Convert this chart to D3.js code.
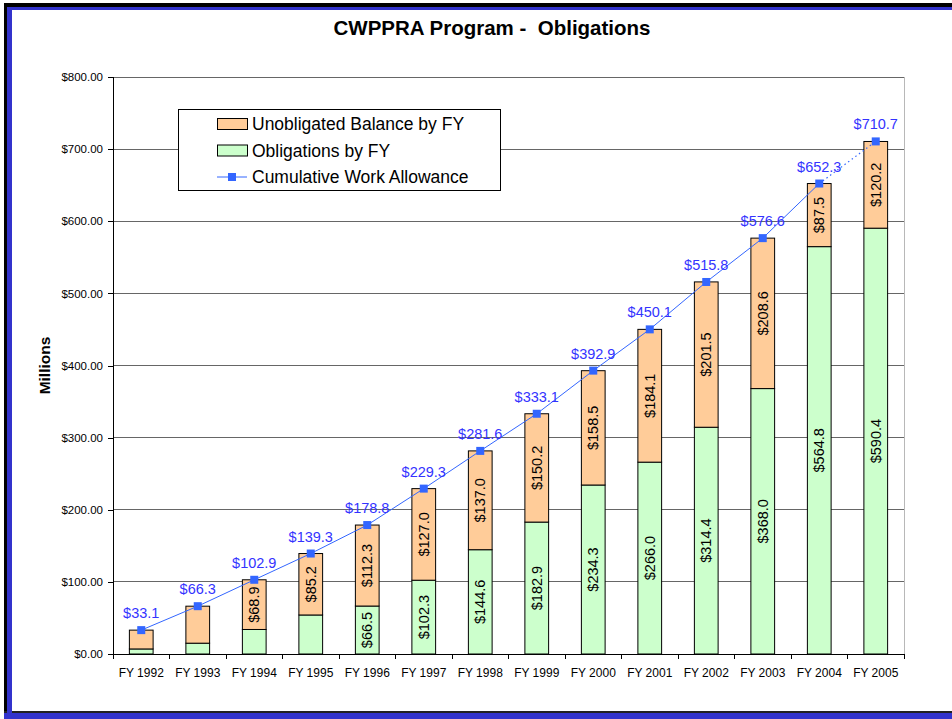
<!DOCTYPE html>
<html>
<head>
<meta charset="utf-8">
<script src="https://cdn.jsdelivr.net/npm/d3@7"></script>
<style>
  body { margin: 0; background: #fff; }
  svg { display: block; font-family: "Liberation Sans", Arial, sans-serif; }
</style>
</head>
<body>
<svg id="chart" width="952" height="719"></svg>
<script>
// chart data
const years = ["FY 1992", "FY 1993", "FY 1994", "FY 1995", "FY 1996", "FY 1997", "FY 1998",
               "FY 1999", "FY 2000", "FY 2001", "FY 2002", "FY 2003", "FY 2004", "FY 2005"];
const obligations = [7.0, 15.0, 34.0, 54.1, 66.5, 102.3, 144.6, 182.9, 234.3, 266.0, 314.4, 368.0, 564.8, 590.4];
const unobligated = [26.1, 51.3, 68.9, 85.2, 112.3, 127.0, 137.0, 150.2, 158.5, 184.1, 201.5, 208.6, 87.5, 120.2];
const cumulative = [33.1, 66.3, 102.9, 139.3, 178.8, 229.3, 281.6, 333.1, 392.9, 450.1, 515.8, 576.6, 652.3, 710.7];
const yTicks = [0, 100, 200, 300, 400, 500, 600, 700, 800];

document.addEventListener('DOMContentLoaded', function() {
  const svg = d3.select("#chart");
  const left = 113, right = 904, top = 77, bottom = 654;

  // frame
  svg.append("rect").attr("x", 4).attr("y", 3).attr("width", 948).attr("height", 4).attr("fill", "#000");
  svg.append("rect").attr("x", 4).attr("y", 3).attr("width", 3).attr("height", 713).attr("fill", "#000");
  svg.append("rect").attr("x", 4).attr("y", 711).attr("width", 948).attr("height", 2).attr("fill", "#222");
  svg.append("rect").attr("x", 7).attr("y", 7).attr("width", 945).attr("height", 3).attr("fill", "#3333CC");
  svg.append("rect").attr("x", 7).attr("y", 7).attr("width", 5).attr("height", 706).attr("fill", "#3333CC");
  svg.append("rect").attr("x", 4).attr("y", 713).attr("width", 948).attr("height", 6).attr("fill", "#3333CC");

  // title
  svg.append("text")
    .attr("x", 492).attr("y", 35)
    .attr("text-anchor", "middle")
    .attr("font-size", "20.5px").attr("font-weight", "bold")
    .attr("xml:space", "preserve")
    .text("CWPPRA Program -  Obligations");

  // scales
  const x = d3.scaleBand().domain(years).range([left, right]).padding(0);
  const y = d3.scaleLinear().domain([0, 800]).range([bottom, top]);
  const barW = x.bandwidth() * 0.42;
  const cx = d => x(d) + x.bandwidth() / 2;

  // gridlines
  svg.append("g").selectAll("line")
    .data(yTicks.filter(d => d > 0))
    .enter().append("line")
    .attr("x1", left).attr("x2", right)
    .attr("y1", d => y(d)).attr("y2", d => y(d))
    .attr("stroke", "#666").attr("stroke-width", 1)
    .attr("shape-rendering", "crispEdges");

  // right plot border
  svg.append("line")
    .attr("x1", right).attr("x2", right).attr("y1", top).attr("y2", bottom)
    .attr("stroke", "#b8b8b8").attr("shape-rendering", "crispEdges");

  // y axis
  const yAxis = d3.axisLeft(y)
    .tickValues(yTicks)
    .tickSize(5)
    .tickPadding(5)
    .tickFormat(d => "$" + d3.format(".2f")(d));
  const ya = svg.append("g").attr("transform", "translate(" + left + ",0)").call(yAxis);
  ya.selectAll("text").attr("font-size", "11.5px").attr("fill", "#000").attr("font-family", "Liberation Sans, Arial, sans-serif");
  ya.selectAll("line, path").attr("stroke", "#000").attr("shape-rendering", "crispEdges");

  svg.append("text")
    .attr("transform", "translate(50," + ((top + bottom) / 2) + ") rotate(-90)")
    .attr("text-anchor", "middle")
    .attr("font-size", "15.5px").attr("font-weight", "bold")
    .text("Millions");

  // stacked bars
  const rows = years.map((yr, i) => ({ yr: yr, ob: obligations[i], un: unobligated[i] }));
  const bars = svg.append("g");
  bars.selectAll(".ob").data(rows).enter().append("rect")
    .attr("x", d => cx(d.yr) - barW / 2)
    .attr("width", barW)
    .attr("y", d => y(d.ob))
    .attr("height", d => y(0) - y(d.ob))
    .attr("fill", "#CCFFCC").attr("stroke", "#000").attr("stroke-width", 1);
  bars.selectAll(".un").data(rows).enter().append("rect")
    .attr("x", d => cx(d.yr) - barW / 2)
    .attr("width", barW)
    .attr("y", d => y(d.ob + d.un))
    .attr("height", d => y(d.ob) - y(d.ob + d.un))
    .attr("fill", "#FFCC99").attr("stroke", "#000").attr("stroke-width", 1);

  // x axis line and ticks
  svg.append("line")
    .attr("x1", left).attr("x2", right).attr("y1", bottom).attr("y2", bottom)
    .attr("stroke", "#000").attr("shape-rendering", "crispEdges");
  const bounds = years.map(d => x(d)).concat([right]);
  svg.append("g").selectAll("line").data(bounds).enter().append("line")
    .attr("x1", d => d).attr("x2", d => d)
    .attr("y1", bottom).attr("y2", bottom + 5)
    .attr("stroke", "#000").attr("shape-rendering", "crispEdges");
  svg.append("g").selectAll("text").data(years).enter().append("text")
    .attr("x", d => cx(d)).attr("y", bottom + 23)
    .attr("text-anchor", "middle").attr("font-size", "12px")
    .text(d => d);

  // segment labels (only where they fit)
  const fmt = d3.format(".1f");
  const segLabel = (val, base) => {
    return rows.filter(d => (y(base(d)) - y(base(d) + val(d))) > 45);
  };
  svg.append("g").selectAll("text")
    .data(segLabel(d => d.ob, d => 0))
    .enter().append("text")
    .attr("transform", d => "translate(" + (cx(d.yr) + 5) + "," + y(d.ob / 2) + ") rotate(-90)")
    .attr("text-anchor", "middle").attr("font-size", "14.5px")
    .text(d => "$" + fmt(d.ob));
  svg.append("g").selectAll("text")
    .data(segLabel(d => d.un, d => d.ob))
    .enter().append("text")
    .attr("transform", d => "translate(" + (cx(d.yr) + 5) + "," + y(d.ob + d.un / 2) + ") rotate(-90)")
    .attr("text-anchor", "middle").attr("font-size", "14.5px")
    .text(d => "$" + fmt(d.un));

  // cumulative line
  const pts = years.map((yr, i) => ({ yr: yr, v: cumulative[i] }));
  const line = d3.line().x(d => cx(d.yr)).y(d => y(d.v));
  svg.append("path").datum(pts.slice(0, pts.length - 1))
    .attr("d", line).attr("fill", "none").attr("stroke", "#3366FF").attr("stroke-width", 1);
  svg.append("path").datum(pts.slice(pts.length - 2))
    .attr("d", line).attr("fill", "none").attr("stroke", "#3366FF").attr("stroke-width", 1.2)
    .attr("stroke-dasharray", "1.5,3");
  svg.append("g").selectAll("rect").data(pts).enter().append("rect")
    .attr("x", d => cx(d.yr) - 4).attr("y", d => y(d.v) - 4)
    .attr("width", 8).attr("height", 8).attr("fill", "#3366FF");
  svg.append("g").selectAll("text").data(pts).enter().append("text")
    .attr("x", d => cx(d.yr)).attr("y", d => y(d.v) - 12)
    .attr("text-anchor", "middle").attr("font-size", "14.5px").attr("fill", "#3333FF")
    .text(d => "$" + fmt(d.v));

  // legend
  const lg = svg.append("g");
  lg.append("rect").attr("x", 178.5).attr("y", 109.5).attr("width", 322).attr("height", 81)
    .attr("fill", "#fff").attr("stroke", "#000");
  const items = [
    { name: "Unobligated Balance by FY", type: "box", color: "#FFCC99" },
    { name: "Obligations by FY", type: "box", color: "#CCFFCC" },
    { name: "Cumulative Work Allowance", type: "line", color: "#3366FF" }
  ];
  items.forEach((it, i) => {
    const yy = 124 + i * 26.5;
    if (it.type === "box") {
      lg.append("rect").attr("x", 217.5).attr("y", yy - 5.5).attr("width", 30).attr("height", 11)
        .attr("fill", it.color).attr("stroke", "#000");
    } else {
      lg.append("line").attr("x1", 217).attr("x2", 247).attr("y1", yy).attr("y2", yy)
        .attr("stroke", it.color);
      lg.append("rect").attr("x", 228).attr("y", yy - 4).attr("width", 8).attr("height", 8)
        .attr("fill", it.color);
    }
    lg.append("text").attr("x", 252).attr("y", yy + 6.3)
      .attr("font-size", "17.5px").text(it.name);
  });
});
</script>
</body>
</html>
